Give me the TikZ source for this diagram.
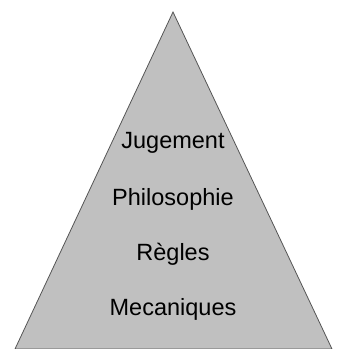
\documentclass[tikz,border=0pt]{standalone}
\usepackage{fontspec}
\setmainfont{Liberation Sans}
\definecolor{pyrfill}{HTML}{C0C0C0}
\definecolor{pyrline}{HTML}{555555}
\begin{document}
\begin{tikzpicture}[x=1pt,y=1pt,
  level/.style={font=\fontsize{23.5}{28}\selectfont, text=black, inner sep=0pt}]
\useasboundingbox (0,0) rectangle (342,349);
\coordinate (apex) at (173,337);
\coordinate (bl) at (15,0);
\coordinate (br) at (332,0);
\filldraw[fill=pyrfill, draw=pyrline, line width=0.8pt] (bl) -- (apex) -- (br) -- cycle;
\node[level] (j) at (173,206) {Jugement};
\node[level] (p) at (173,150) {Philosophie};
\node[level] (r) at (173,95) {Règles};
\node[level] (m) at (173,40) {Mecaniques};
\end{tikzpicture}
\end{document}
